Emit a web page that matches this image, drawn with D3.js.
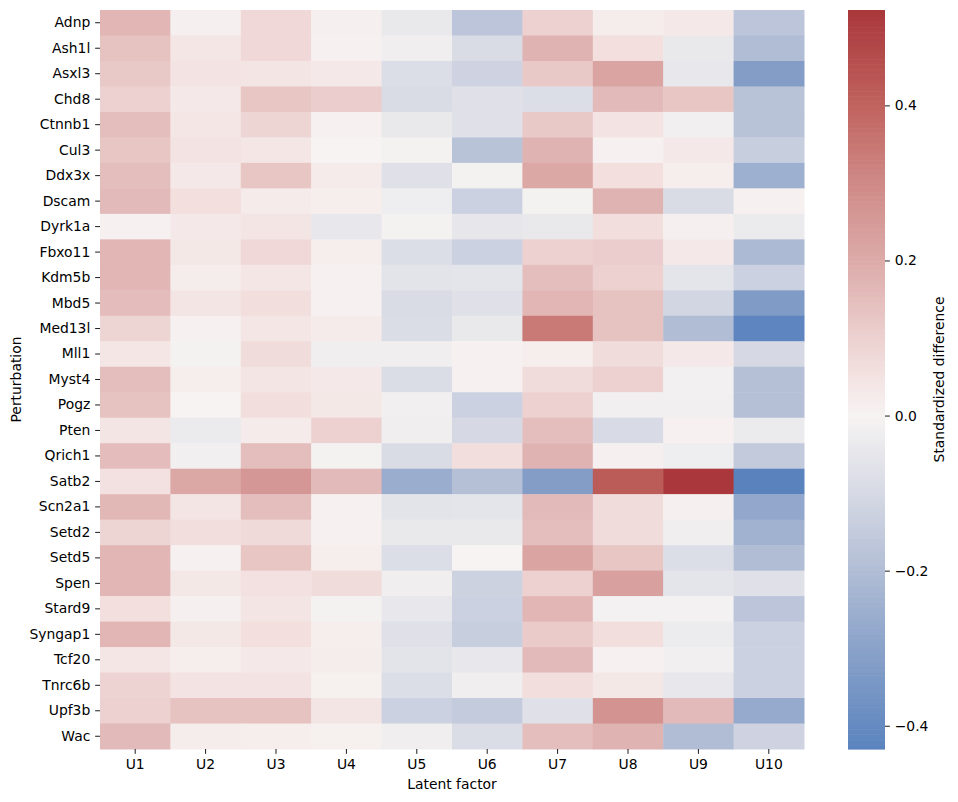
<!DOCTYPE html>
<html lang="en">
<head>
    <meta charset="UTF-8">
    <title>Standardized difference heatmap</title>
    <script src="https://d3js.org/d3.v7.min.js"></script>
    <style>
        body { margin: 0; background: #fff; font-family: "DejaVu Sans", sans-serif; }
        svg text { font-family: "DejaVu Sans", sans-serif; fill: #000; }
    </style>
</head>
<body>
    <div id="chart"></div>
    <script>
        const perturbations = ["Adnp", "Ash1l", "Asxl3", "Chd8", "Ctnnb1", "Cul3", "Ddx3x", "Dscam", "Dyrk1a",
            "Fbxo11", "Kdm5b", "Mbd5", "Med13l", "Mll1", "Myst4", "Pogz", "Pten", "Qrich1", "Satb2",
            "Scn2a1", "Setd2", "Setd5", "Spen", "Stard9", "Syngap1", "Tcf20", "Tnrc6b", "Upf3b", "Wac"];
        const factors = ["U1", "U2", "U3", "U4", "U5", "U6", "U7", "U8", "U9", "U10"];

        // one row per perturbation, columns U1..U10
        const values = [
            [0.17, 0.01, 0.08, 0.01, -0.04, -0.17, 0.10, 0.02, 0.03, -0.17],
            [0.14, 0.04, 0.08, 0.005, -0.02, -0.09, 0.18, 0.06, -0.04, -0.20],
            [0.12, 0.05, 0.045, 0.03, -0.08, -0.12, 0.12, 0.22, -0.045, -0.32],
            [0.10, 0.03, 0.13, 0.11, -0.09, -0.07, -0.08, 0.16, 0.13, -0.18],
            [0.15, 0.04, 0.09, 0.005, -0.04, -0.07, 0.12, 0.05, -0.015, -0.18],
            [0.13, 0.05, 0.04, 0.0, -0.005, -0.18, 0.18, 0.005, 0.03, -0.14],
            [0.15, 0.03, 0.13, 0.025, -0.07, -0.005, 0.21, 0.06, 0.015, -0.25],
            [0.16, 0.06, 0.025, 0.015, -0.025, -0.13, -0.005, 0.18, -0.09, 0.005],
            [0.005, 0.03, 0.045, -0.045, -0.005, -0.05, -0.04, 0.065, 0.01, -0.035],
            [0.17, 0.035, 0.08, 0.015, -0.08, -0.13, 0.10, 0.11, 0.03, -0.21],
            [0.17, 0.02, 0.04, 0.005, -0.06, -0.055, 0.15, 0.10, -0.055, -0.13],
            [0.155, 0.045, 0.065, 0.005, -0.09, -0.07, 0.17, 0.14, -0.11, -0.33],
            [0.09, 0.005, 0.04, 0.025, -0.085, -0.04, 0.34, 0.14, -0.20, -0.42],
            [0.04, -0.005, 0.07, -0.02, -0.02, 0.005, 0.015, 0.07, 0.03, -0.10],
            [0.15, 0.015, 0.045, 0.03, -0.085, 0.005, 0.07, 0.10, -0.01, -0.19],
            [0.14, 0.0, 0.065, 0.035, -0.015, -0.13, 0.10, -0.015, -0.015, -0.19],
            [0.045, -0.035, 0.025, 0.10, -0.02, -0.10, 0.15, -0.095, 0.005, -0.035],
            [0.155, -0.015, 0.15, -0.005, -0.09, 0.065, 0.18, 0.01, -0.025, -0.155],
            [0.055, 0.21, 0.26, 0.16, -0.26, -0.19, -0.32, 0.42, 0.523, -0.43],
            [0.165, 0.045, 0.15, 0.005, -0.06, -0.055, 0.16, 0.07, 0.01, -0.28],
            [0.09, 0.065, 0.075, 0.005, -0.04, -0.04, 0.15, 0.07, -0.02, -0.24],
            [0.17, 0.005, 0.13, 0.015, -0.08, 0.0, 0.22, 0.13, -0.08, -0.20],
            [0.17, 0.035, 0.055, 0.07, -0.02, -0.125, 0.10, 0.23, -0.055, -0.07],
            [0.06, 0.01, 0.045, -0.005, -0.045, -0.13, 0.17, -0.008, -0.008, -0.17],
            [0.17, 0.035, 0.06, 0.015, -0.07, -0.14, 0.115, 0.065, -0.03, -0.13],
            [0.04, 0.015, 0.03, 0.02, -0.06, -0.045, 0.16, 0.005, -0.015, -0.13],
            [0.095, 0.05, 0.05, 0.008, -0.08, -0.02, 0.065, 0.035, -0.045, -0.13],
            [0.10, 0.14, 0.14, 0.045, -0.13, -0.15, -0.07, 0.27, 0.16, -0.27],
            [0.16, 0.02, 0.015, 0.008, -0.02, -0.085, 0.15, 0.18, -0.20, -0.12]
        ];

        const cbarTicks = [-0.4, -0.2, 0.0, 0.2, 0.4];

        const width = 958, height = 802;
        const plot = { left: 100, right: 804, top: 10, bottom: 749 };
        const cbar = { left: 848, right: 885 };

        const cells = [];
        values.forEach((row, i) => row.forEach((v, j) => cells.push({ p: perturbations[i], f: factors[j], v })));

        const vmin = d3.min(cells, d => d.v);
        const vmax = d3.max(cells, d => d.v);

        // diverging blue-white-red map (vlag-like), centred on 0
        const color = d3.scaleLinear()
            .domain([-0.43, -0.3, -0.2, -0.1, -0.05, 0, 0.05, 0.1, 0.2, 0.3, 0.4, 0.523])
            .range(["#5a83be", "#8aa2c9", "#b1bdd5", "#d6d9e4", "#e6e6eb", "#f6f3f2",
                    "#f3e3e2", "#ecd1d0", "#dcaba9", "#cf8a87", "#c0635f", "#a9373b"])
            .interpolate(d3.interpolateRgb)
            .clamp(true);

        const svg = d3.select("#chart").append("svg")
            .attr("width", width)
            .attr("height", height);

        const x = d3.scaleBand().domain(factors).range([plot.left, plot.right]);
        const y = d3.scaleBand().domain(perturbations).range([plot.top, plot.bottom]);

        svg.append("g").selectAll("rect")
            .data(cells)
            .join("rect")
            .attr("x", d => x(d.f))
            .attr("y", d => y(d.p))
            .attr("width", x.bandwidth() + 0.5)
            .attr("height", y.bandwidth() + 0.5)
            .attr("fill", d => color(d.v));

        const tickLen = 4.86, tickPad = 4.86;

        const xAxis = svg.append("g")
            .attr("transform", `translate(0,${plot.bottom})`)
            .call(d3.axisBottom(x).tickSize(tickLen).tickPadding(tickPad));
        const yAxis = svg.append("g")
            .attr("transform", `translate(${plot.left},0)`)
            .call(d3.axisLeft(y).tickSize(tickLen).tickPadding(tickPad));

        [xAxis, yAxis].forEach(a => {
            a.select(".domain").remove();
            a.selectAll(".tick line").attr("stroke", "#000").attr("stroke-width", 0.9);
            a.selectAll(".tick text").attr("font-size", "13.9px").attr("font-family", "DejaVu Sans");
        });

        svg.append("text")
            .attr("x", (plot.left + plot.right) / 2)
            .attr("y", 789)
            .attr("text-anchor", "middle")
            .attr("font-size", "13.9px")
            .text("Latent factor");

        svg.append("text")
            .attr("transform", `translate(21,${(plot.top + plot.bottom) / 2}) rotate(-90)`)
            .attr("text-anchor", "middle")
            .attr("font-size", "13.9px")
            .text("Perturbation");

        // colorbar
        const cy = d3.scaleLinear().domain([vmin, vmax]).range([plot.bottom, plot.top]);
        const steps = d3.range(0, 300);
        svg.append("g").selectAll("rect")
            .data(steps)
            .join("rect")
            .attr("x", cbar.left)
            .attr("width", cbar.right - cbar.left)
            .attr("y", i => cy(vmin + (vmax - vmin) * (i + 1) / steps.length))
            .attr("height", (plot.bottom - plot.top) / steps.length + 0.6)
            .attr("fill", i => color(vmin + (vmax - vmin) * (i + 0.5) / steps.length));

        const cAxis = svg.append("g")
            .attr("transform", `translate(${cbar.right},0)`)
            .call(d3.axisRight(cy).tickValues(cbarTicks).tickSize(tickLen).tickPadding(tickPad)
                .tickFormat(d => d3.format(".1f")(d).replace("-", "\u2212")));
        cAxis.select(".domain").remove();
        cAxis.selectAll(".tick line").attr("stroke", "#000").attr("stroke-width", 0.9);
        cAxis.selectAll(".tick text").attr("font-size", "13.9px").attr("font-family", "DejaVu Sans");

        svg.append("text")
            .attr("transform", `translate(944,${(plot.top + plot.bottom) / 2}) rotate(-90)`)
            .attr("text-anchor", "middle")
            .attr("font-size", "13.9px")
            .text("Standardized difference");
    </script>
</body>
</html>
